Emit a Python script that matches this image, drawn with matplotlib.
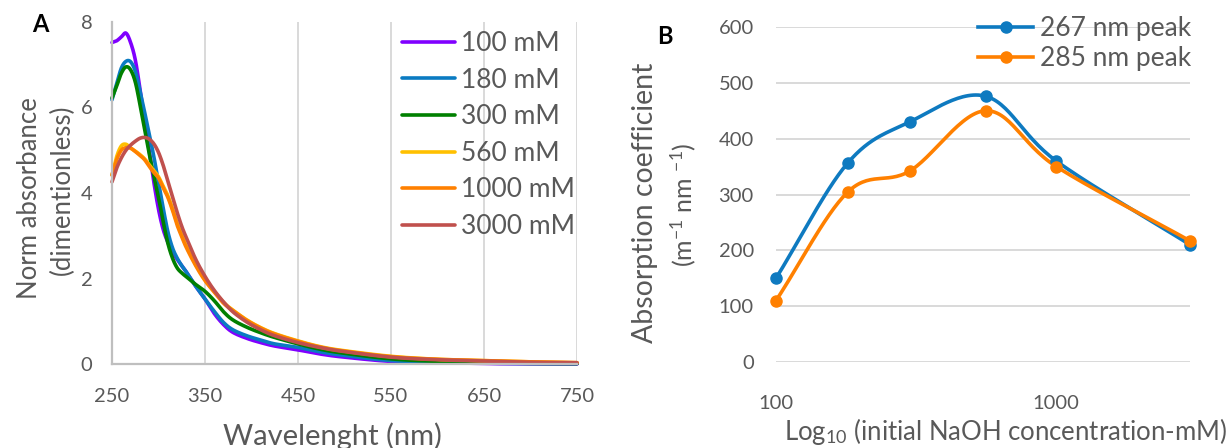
import numpy as np
import matplotlib
matplotlib.use("Agg")
import matplotlib.pyplot as plt
from matplotlib.lines import Line2D

plt.rcParams['font.family'] = ['Lato', 'DejaVu Sans']
plt.rcParams['mathtext.fontset'] = 'custom'
plt.rcParams['mathtext.rm'] = 'Lato'
plt.rcParams['mathtext.it'] = 'Lato:italic'
plt.rcParams['mathtext.bf'] = 'Lato:bold'

# ---------------- Panel A data ----------------
wavelength = [250, 255, 260, 265, 270, 275, 280, 285, 290, 295, 300, 305, 310, 315, 320,
              325, 330, 340, 350, 360, 370, 380, 395, 410, 425, 450, 475, 500, 550,
              600, 650, 700, 750]
abs_100 = [7.52, 7.56, 7.65, 7.74, 7.52, 7.12, 6.45, 5.72, 4.98, 4.25, 3.62, 3.15, 2.85, 2.62, 2.45,
           2.30, 2.15, 1.82, 1.52, 1.18, 0.92, 0.74, 0.60, 0.50, 0.42, 0.33, 0.23, 0.16, 0.06,
           0.03, 0.01, 0.005, 0.0]
abs_180 = [6.18, 6.55, 6.92, 7.08, 7.07, 6.85, 6.40, 5.90, 5.38, 4.85, 4.25, 3.65, 3.10, 2.72, 2.48,
           2.30, 2.15, 1.82, 1.52, 1.23, 0.97, 0.80, 0.66, 0.56, 0.47, 0.39, 0.28, 0.20, 0.08,
           0.04, 0.02, 0.01, 0.01]
abs_300 = [6.22, 6.50, 6.80, 6.95, 6.88, 6.60, 6.08, 5.50, 4.92, 4.40, 3.90, 3.33, 2.83, 2.48, 2.25,
           2.13, 2.04, 1.86, 1.70, 1.48, 1.22, 1.03, 0.86, 0.73, 0.62, 0.47, 0.34, 0.25, 0.12,
           0.06, 0.03, 0.015, 0.01]
abs_560 = [4.42, 4.85, 5.10, 5.14, 5.05, 4.98, 4.90, 4.80, 4.66, 4.52, 4.38, 4.16, 3.94, 3.64, 3.30,
           3.02, 2.76, 2.33, 1.98, 1.70, 1.44, 1.26, 1.03, 0.85, 0.71, 0.54, 0.40, 0.31, 0.18,
           0.11, 0.08, 0.05, 0.03]
abs_1000 = [4.42, 4.78, 5.00, 5.06, 5.05, 4.97, 4.88, 4.78, 4.62, 4.48, 4.35, 4.12, 3.90, 3.60, 3.25,
            2.98, 2.72, 2.30, 1.95, 1.68, 1.42, 1.25, 1.02, 0.84, 0.70, 0.53, 0.39, 0.30, 0.17,
            0.11, 0.08, 0.05, 0.03]
abs_3000 = [4.26, 4.58, 4.82, 5.00, 5.12, 5.21, 5.28, 5.30, 5.26, 5.15, 4.95, 4.65, 4.28, 3.92, 3.55,
            3.22, 2.95, 2.45, 2.05, 1.72, 1.45, 1.22, 0.98, 0.80, 0.66, 0.50, 0.38, 0.29, 0.16,
            0.10, 0.07, 0.04, 0.03]
series_labels_A = ['100 mM', '180 mM', '300 mM', '560 mM', '1000 mM', '3000 mM']
series_colors_A = ['#8000FF', '#0A7BC2', '#008000', '#FFC000', '#FF8000', '#C0504D']
xticks_A = [250, 350, 450, 550, 650, 750]
yticks_A = [0, 2, 4, 6, 8]

# ---------------- Panel B data ----------------
naoh_conc = [100, 180, 300, 560, 1000, 3000]
coef_267 = [150, 356, 430, 476, 360, 210]
coef_285 = [110, 304, 342, 450, 350, 217]
labels_B = ['267 nm peak', '285 nm peak']
colors_B = ['#0E7AC0', '#FF8000']
yticks_B = [0, 100, 200, 300, 400, 500, 600]
xticks_B = [100, 1000]

TXT = '#595959'
W, H = 1226, 448


def catmull_rom(x, y, n=24):
    x = np.asarray(x, float)
    y = np.asarray(y, float)
    px = np.concatenate([[2 * x[0] - x[1]], x, [2 * x[-1] - x[-2]]])
    py = np.concatenate([[2 * y[0] - y[1]], y, [2 * y[-1] - y[-2]]])
    xs, ys = [], []
    t = np.linspace(0, 1, n, endpoint=False)
    for i in range(1, len(px) - 2):
        for arr, out in ((px, xs), (py, ys)):
            p0, p1, p2, p3 = arr[i - 1], arr[i], arr[i + 1], arr[i + 2]
            out.append(0.5 * ((2 * p1) + (-p0 + p2) * t + (2 * p0 - 5 * p1 + 4 * p2 - p3) * t ** 2
                              + (-p0 + 3 * p1 - 3 * p2 + p3) * t ** 3))
    xs = np.concatenate(xs + [[x[-1]]])
    ys = np.concatenate(ys + [[y[-1]]])
    return xs, ys


fig = plt.figure(figsize=(W / 100, H / 100), dpi=100)

# ---------------- Panel A ----------------
axA = fig.add_axes([112 / W, (H - 364) / H, 465 / W, 342 / H])
all_A = [abs_100, abs_180, abs_300, abs_560, abs_1000, abs_3000]
handles_A = []
for vals, col, lab in zip(all_A, series_colors_A, series_labels_A):
    sx, sy = catmull_rom(wavelength, vals, n=12)
    ln, = axA.plot(sx, sy, color=col, lw=2.6, solid_capstyle='round', label=lab, clip_on=False)
    handles_A.append(ln)
axA.set_xlim(250, 750)
axA.set_ylim(0, 8)
axA.set_xticks(xticks_A)
axA.set_yticks(yticks_A)
axA.grid(axis='x', color='#D9D9D9', lw=1.4)
axA.set_axisbelow(True)
for s in ['top', 'right']:
    axA.spines[s].set_visible(False)
for s in ['left', 'bottom']:
    axA.spines[s].set_color('#BFBFBF')
    axA.spines[s].set_linewidth(1.6)
axA.tick_params(length=0, labelsize=14.5, labelcolor=TXT)
axA.tick_params(axis='x', pad=17)
axA.tick_params(axis='y', pad=14)

legA = fig.legend(handles=handles_A, loc='upper left',
                  bbox_to_anchor=(402 / W, 1 - 31 / H), frameon=False,
                  fontsize=19, handlelength=2.0, handletextpad=0.25,
                  labelspacing=0.44, borderpad=0, borderaxespad=0)
for t in legA.get_texts():
    t.set_color(TXT)

fig.text(332 / W, 1 - 436 / H, 'Wavelenght (nm)', ha='center', va='center',
         fontsize=21, color=TXT)
fig.text(30 / W, 1 - 198 / H, 'Norm absorbance', ha='center', va='center',
         rotation=90, fontsize=18.5, color=TXT)
fig.text(62 / W, 1 - 190 / H, '(dimentionless)', ha='center', va='center',
         rotation=90, fontsize=18.5, color=TXT)
fig.text(40 / W, 1 - 25 / H, 'A', ha='center', va='center', fontsize=17,
         fontweight='bold', color='black')

# ---------------- Panel B ----------------
axB = fig.add_axes([776 / W, (H - 362) / H, 414 / W, 335 / H])
handles_B = []
for vals, col, lab in zip([coef_267, coef_285], colors_B, labels_B):
    lx, sy = catmull_rom(np.log10(naoh_conc), vals, n=30)
    axB.plot(10 ** lx, sy, color=col, lw=2.6, clip_on=False)
    axB.plot(naoh_conc, vals, 'o', color=col, ms=8, clip_on=False, zorder=4)
    handles_B.append(Line2D([], [], color=col, lw=2.6, marker='o', ms=8))
axB.set_xscale('log')
axB.set_xlim(100, 3000)
axB.set_ylim(0, 600)
axB.set_xticks(xticks_B)
axB.set_xticklabels([str(v) for v in xticks_B])
axB.xaxis.set_minor_locator(matplotlib.ticker.NullLocator())
axB.set_yticks(yticks_B)
axB.grid(axis='y', color='#D9D9D9', lw=1.4)
axB.set_axisbelow(True)
for s in axB.spines.values():
    s.set_visible(False)
axB.tick_params(length=0, labelsize=14.5, labelcolor=TXT)
axB.tick_params(axis='x', pad=24)
axB.tick_params(axis='y', pad=16)

legB = fig.legend(handles=handles_B, labels=labels_B, loc='upper left',
                  bbox_to_anchor=(978 / W, 1 - 16 / H), frameon=False,
                  fontsize=19, handlelength=2.1, handletextpad=0.25,
                  labelspacing=0.2, borderpad=0, borderaxespad=0)
for t in legB.get_texts():
    t.set_color(TXT)

fig.text(1006 / W, 1 - 431 / H, r'Log$_{10}$ (initial NaOH concentration-mM)',
         ha='center', va='center', fontsize=18.5, color=TXT)
fig.text(645 / W, 1 - 203 / H, 'Absorption coefficient', ha='center', va='center',
         rotation=90, fontsize=20.5, color=TXT)
fig.text(683 / W, 1 - 205 / H, r'(m$^{-1}$ nm $^{-1}$)', ha='center', va='center',
         rotation=90, fontsize=18, color=TXT)
fig.text(665 / W, 1 - 37 / H, 'B', ha='center', va='center', fontsize=17,
         fontweight='bold', color='black')

fig.savefig('out.png', dpi=100)
